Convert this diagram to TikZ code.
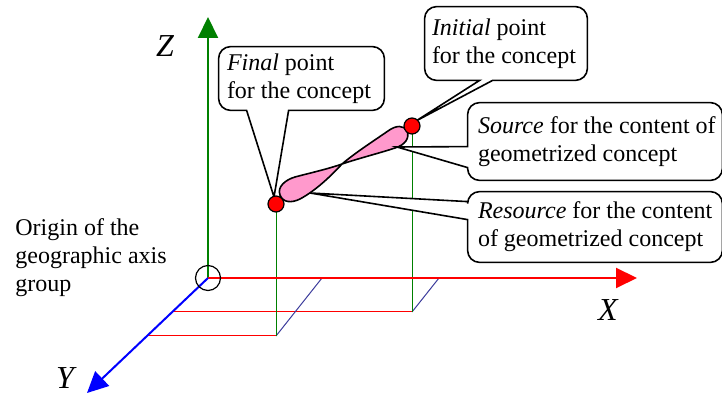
\documentclass[tikz,border=0pt]{standalone}
\usepackage{fontspec}
\setmainfont{Liberation Serif}
\usetikzlibrary{arrows.meta,positioning,calc}
\definecolor{axgreen}{HTML}{008000}
\definecolor{axred}{HTML}{FF0000}
\definecolor{axblue}{HTML}{0000FF}
\definecolor{gridnavy}{HTML}{3C3C9C}
\definecolor{lobepink}{HTML}{FF99CC}
\tikzset{
  axis/.style={line width=1pt, -{Triangle[length=10.5pt,width=10pt]}},
  axlbl/.style={font=\fontsize{16}{18}\selectfont\itshape, inner sep=0pt},
  gridline/.style={line width=0.5pt},
  dropline/.style={draw=axgreen, line width=0.5pt},
  callbox/.style={inner sep=0pt},
  calltext/.style={inner sep=0pt, align=left, font=\fontsize{12}{14}\selectfont},
  callline/.style={draw=black, fill=white, line width=0.8pt},
  ptdot/.style={circle, draw=black, fill=red, line width=0.6pt, minimum size=8pt, inner sep=0pt},
}

\begin{document}
\begin{tikzpicture}[x=0.5pt,y=-0.5pt]
\useasboundingbox (0,0) rectangle (722,394);
% axis frame
\coordinate (orig) at (208,278);
\coordinate (ztip) at (208,17);
\coordinate (xtip) at (637,278);
\coordinate (ytip) at (87,393);
\coordinate (yA) at (172,312);
\coordinate (yB) at (147,336);
\coordinate (xA) at (322,278);
\coordinate (xB) at (439,278);
\coordinate (fbase) at (276,336);
\coordinate (ibase) at (412,312);
\coordinate (fdot) at (276,204);
\coordinate (idot) at (412,126);

% projections on the ground plane
\draw[gridline, axred] (yA) -- (ibase);
\draw[gridline, axred] (yB) -- (fbase);
\draw[gridline, gridnavy] (xA) -- (fbase);
\draw[gridline, gridnavy] (xB) -- (ibase);
\draw[dropline] (fdot) -- (fbase);
\draw[dropline] (idot) -- (ibase);

\draw[axis, axgreen] (orig) -- (ztip);
\draw[axis, axred] (orig) -- (xtip);
\draw[axis, axblue] (orig) -- (ytip);
\node[circle, draw, line width=0.6pt, minimum size=12.5pt, inner sep=0pt] (orgmark) at (orig) {};

\node[axlbl] (zlbl) at (165,46) {Z};
\node[axlbl] (xlbl) at (608,310) {X};
\node[axlbl] (ylbl) at (65,378) {Y};
\node[calltext, anchor=west] (origlbl) at (15,258) {Origin of the\\geographic axis\\group};

% the geometrized concept
\draw[fill=lobepink, line width=0.8pt]
  (342,164) .. controls (330,177) and (315,191) .. (300,199)
  .. controls (292,203) and (283,203) .. (280,195)
  .. controls (277,187) and (285,180) .. (295,177)
  .. controls (310,173) and (328,169) .. (342,164)
  .. controls (360,158) and (380,153) .. (395,148)
  .. controls (405,145) and (410,138) .. (407,131)
  .. controls (404,125) and (396,125) .. (388,131)
  .. controls (372,142) and (355,153) .. (342,164) -- cycle;

% callouts
\coordinate (fintip) at (274,197);
\coordinate (initip) at (416,121);
\coordinate (srctip) at (397,147);
\coordinate (restip) at (310,193);

\node[callbox, minimum width=82.5pt, minimum height=31.5pt] (finbox) at (301.5,78.5) {};
\draw[callline] ([xshift=14pt]finbox.south west) [rounded corners=6pt]
  -- (finbox.south west) -- (finbox.north west) -- (finbox.north east)
  -- (finbox.south east) [sharp corners] -- ([xshift=35pt]finbox.south west)
  -- (fintip) -- cycle;
\node[calltext, right=4pt of finbox.west] (fintxt) {\textit{Final} point\\for the concept};

\node[callbox, minimum width=81pt, minimum height=36.5pt] (inibox) at (506,43.5) {};
\draw[callline] ([xshift=27.5pt]inibox.south west) [rounded corners=6pt]
  -- (inibox.south west) -- (inibox.north west) -- (inibox.north east)
  -- (inibox.south east) [sharp corners] -- ([xshift=34pt]inibox.south west)
  -- (initip) -- cycle;
\node[calltext, right=3.5pt of inibox.west] (initxt) {\textit{Initial} point\\for the concept};

\node[callbox, minimum width=127pt, minimum height=38.5pt] (srcbox) at (595,141.5) {};
\draw[callline] ([yshift=-22pt]srcbox.north west) [rounded corners=6pt]
  -- (srcbox.north west) -- (srcbox.north east) -- (srcbox.south east)
  -- (srcbox.south west) [sharp corners] -- ([yshift=-32.5pt]srcbox.north west)
  -- (srctip) -- cycle;
\node[calltext, right=5pt of srcbox.west] (srctxt) {\textit{Source} for the content of\\geometrized concept};

\node[callbox, minimum width=127pt, minimum height=35pt] (resbox) at (595,227) {};
\draw[callline] ([yshift=-5pt]resbox.north west) [rounded corners=6pt]
  -- (resbox.north west) -- (resbox.north east) -- (resbox.south east)
  -- (resbox.south west) [sharp corners] -- ([yshift=-14pt]resbox.north west)
  -- (restip) -- cycle;
\node[calltext, right=5pt of resbox.west] (restxt) {\textit{Resource} for the content\\of geometrized concept};

\node[ptdot] (fpt) at (fdot) {};
\node[ptdot] (ipt) at (idot) {};
\end{tikzpicture}
\end{document}
